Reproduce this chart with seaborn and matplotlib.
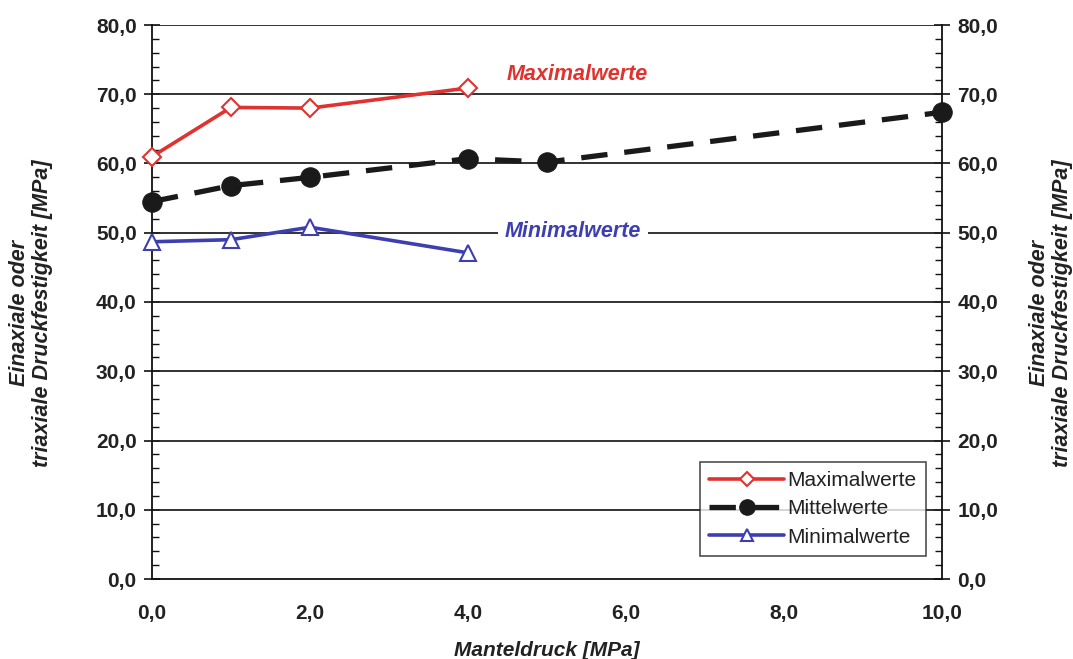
import matplotlib
matplotlib.use("Agg")
import matplotlib.pyplot as plt
import seaborn as sns
import pandas as pd
from matplotlib.ticker import MultipleLocator, FuncFormatter

max_x = [0, 1, 2, 4]
max_y = [61.0, 68.1, 68.0, 70.9]
mid_x = [0, 1, 2, 4, 5, 10]
mid_y = [54.5, 56.8, 58.0, 60.7, 60.2, 67.4]
min_x = [0, 1, 2, 4]
min_y = [48.7, 49.0, 50.8, 47.1]

sns.set_theme(style="white")
plt.rcParams['font.family'] = ['Liberation Sans', 'DejaVu Sans']

fig = plt.figure(figsize=(10.73, 6.59), dpi=100)
ax = fig.add_axes([152/1073, 1-579/659, (942-152)/1073, (579-25)/659])

red = "#e0322e"
blue = "#3d3fb0"
txt = "#222222"

for y in range(10, 81, 10):
    ax.axhline(y, color="#222222", lw=1.3, zorder=1)

sns.lineplot(x=mid_x, y=mid_y, ax=ax, color="#1a1a1a", lw=3.8, marker="o",
             markersize=14, markeredgecolor="#1a1a1a", dashes=False,
             linestyle=(0, (5, 3.2)), label="Mittelwerte", zorder=3, clip_on=False)
sns.lineplot(x=max_x, y=max_y, ax=ax, color=red, lw=2.6, marker="D",
             markersize=9, markerfacecolor="white", markeredgecolor=red,
             markeredgewidth=1.5, label="Maximalwerte", zorder=4, clip_on=False)
sns.lineplot(x=min_x, y=min_y, ax=ax, color=blue, lw=2.6, marker="^",
             markersize=11, markerfacecolor="white", markeredgecolor=blue,
             markeredgewidth=1.5, label="Minimalwerte", zorder=4, clip_on=False)

ax.set_xlim(0, 10)
ax.set_ylim(0, 80)
fmt = FuncFormatter(lambda v, p: f"{v:.1f}".replace(".", ","))
ax.xaxis.set_major_locator(MultipleLocator(2))
ax.xaxis.set_minor_locator(MultipleLocator(0.4))
ax.yaxis.set_major_locator(MultipleLocator(10))
ax.yaxis.set_minor_locator(MultipleLocator(2))
ax.xaxis.set_major_formatter(fmt)
ax.yaxis.set_major_formatter(fmt)

ax.spines["top"].set_visible(False)
for s in ["left", "right", "bottom"]:
    ax.spines[s].set_color("#111111")
    ax.spines[s].set_linewidth(1.3)

ax.tick_params(axis="both", which="major", direction="inout", length=12, width=1.2,
               colors="#111111", labelsize=15, labelcolor=txt)
ax.tick_params(axis="both", which="minor", direction="in", length=5, width=1.0, colors="#111111")
ax.tick_params(axis="y", which="both", left=True, right=True, labelleft=True, labelright=True, pad=5)
ax.tick_params(axis="x", which="both", top=False, pad=12)
for t in ax.yaxis.get_major_ticks():
    t.label1.set_fontweight("bold")
    t.label2.set_fontweight("bold")
for t in ax.xaxis.get_major_ticks():
    t.label1.set_fontweight("bold")

ax.set_xlabel("Manteldruck [MPa]", fontsize=15, fontweight="bold", style="italic",
              labelpad=13, color=txt)
ax.set_ylabel("")
ylab = "Einaxiale oder\ntriaxiale Druckfestigkeit [MPa]"
fig.text(31/1073, 1-313/659, ylab, rotation=90, ha="center", va="center", fontsize=15.5,
         fontweight="bold", style="italic", multialignment="center", color=txt, linespacing=1.15)
fig.text(1051/1073, 1-313/659, ylab, rotation=90, ha="center", va="center", fontsize=15.5,
         fontweight="bold", style="italic", multialignment="center", color=txt, linespacing=1.15)

ax.text(5.38, 72.8, "Maximalwerte", color=red, fontsize=15.5, fontweight="bold", style="italic",
        ha="center", va="center", zorder=5)
ax.text(5.33, 50.2, "Minimalwerte", color=blue, fontsize=15.5, fontweight="bold", style="italic",
        ha="center", va="center", zorder=5,
        bbox=dict(facecolor="white", edgecolor="none", pad=5))

handles, labels = ax.get_legend_handles_labels()
order = [labels.index(l) for l in ["Maximalwerte", "Mittelwerte", "Minimalwerte"]]
leg = ax.legend([handles[i] for i in order], [labels[i] for i in order],
                loc="lower right", bbox_to_anchor=((926-152)/790, (579-556)/554),
                fontsize=15, frameon=True, fancybox=False, edgecolor="#222222",
                handlelength=3.6, handletextpad=0.15, borderpad=0.45, labelspacing=0.45,
                markerscale=0.8, borderaxespad=0)
leg.get_frame().set_linewidth(1.2)
for t in leg.get_texts():
    t.set_color(txt)
leg.set_zorder(6)

fig.savefig("out.png", dpi=100, facecolor="white")
